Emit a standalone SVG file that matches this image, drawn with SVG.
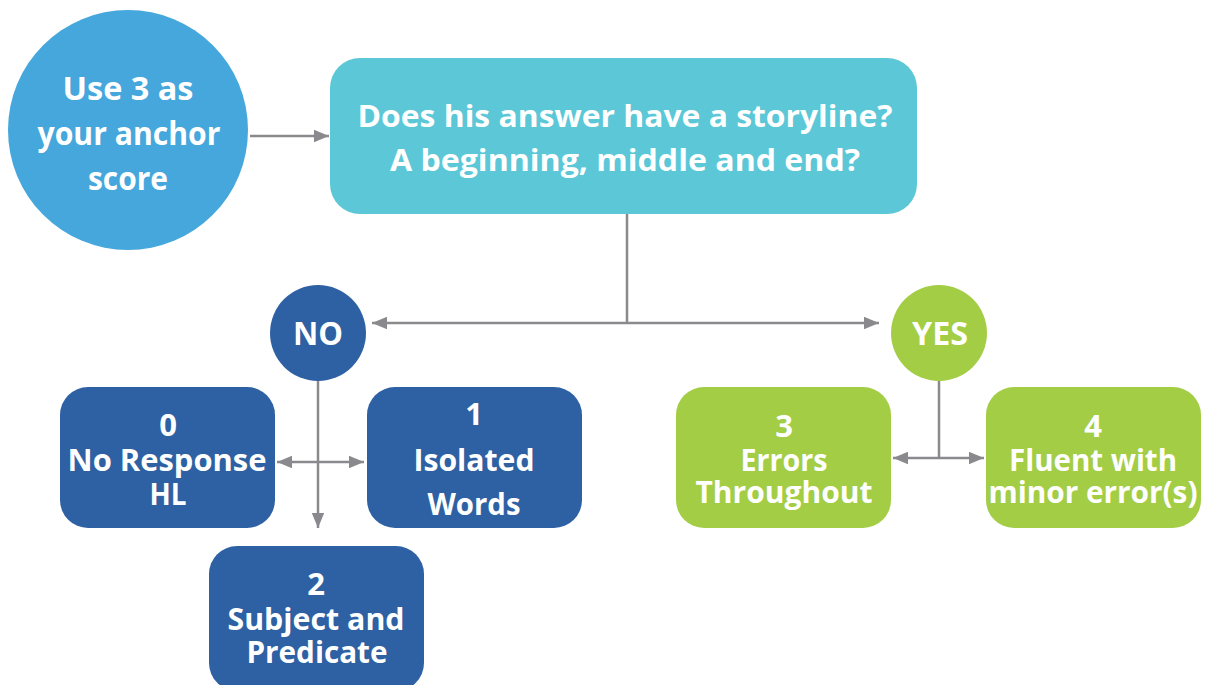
<svg xmlns="http://www.w3.org/2000/svg" width="1210" height="685" viewBox="0 0 1210 685">
<defs>
<style>
.t{font-family:"Open Sans","Liberation Sans",sans-serif;font-weight:700;fill:#ffffff;text-anchor:middle}
.big{font-size:33px}
.mid{font-size:31px}
.yn{font-size:32px}
.box{font-size:31px}
.ln{stroke:#8a8a8e;stroke-width:2.5;fill:none}
.blue{fill:#2E61A3}
.green{fill:#A3CD45}
</style>
<marker id="ah" viewBox="0 0 12 10" refX="12" refY="5" markerWidth="6" markerHeight="5" orient="auto-start-reverse" markerUnits="strokeWidth">
<path d="M0,0 L12,5 L0,10 z" fill="#8a8a8e"/>
</marker>
</defs>
<rect width="1210" height="685" fill="#ffffff"/>
<g id="connectors">
<line class="ln" x1="250" y1="136" x2="329" y2="136" marker-end="url(#ah)"/>
<line class="ln" x1="627" y1="214" x2="627" y2="323"/>
<line class="ln" x1="372" y1="323" x2="879" y2="323" marker-start="url(#ah)" marker-end="url(#ah)"/>
<line class="ln" x1="318" y1="381" x2="318" y2="528" marker-end="url(#ah)"/>
<line class="ln" x1="277" y1="462" x2="364" y2="462" marker-start="url(#ah)" marker-end="url(#ah)"/>
<line class="ln" x1="939" y1="381" x2="939" y2="458"/>
<line class="ln" x1="893" y1="458" x2="984" y2="458" marker-start="url(#ah)" marker-end="url(#ah)"/>
</g>
<g id="anchor">
<circle cx="128" cy="130" r="120" fill="#45A7DC"/>
<text class="t big" x="128" y="100" textLength="131" lengthAdjust="spacingAndGlyphs">Use 3 as</text>
<text class="t big" x="129" y="145" textLength="183" lengthAdjust="spacingAndGlyphs">your anchor</text>
<text class="t big" x="128" y="190" textLength="80" lengthAdjust="spacingAndGlyphs">score</text>
</g>
<g id="question">
<rect x="330" y="58" width="587" height="156" rx="30" fill="#5BC7D7"/>
<text class="t mid" x="625" y="127" textLength="535" lengthAdjust="spacingAndGlyphs">Does his answer have a storyline?</text>
<text class="t mid" x="625" y="171" textLength="470" lengthAdjust="spacingAndGlyphs">A beginning, middle and end?</text>
</g>
<g id="no">
<circle class="blue" cx="318" cy="333" r="48"/>
<text class="t yn" x="318" y="345" textLength="50" lengthAdjust="spacingAndGlyphs">NO</text>
</g>
<g id="yes">
<circle class="green" cx="939" cy="333" r="48"/>
<text class="t yn" x="940" y="345" textLength="56" lengthAdjust="spacingAndGlyphs">YES</text>
</g>
<g id="score0">
<rect class="blue" x="60" y="387" width="215" height="141" rx="28"/>
<text class="t box" x="168" y="436">0</text>
<text class="t box" x="167" y="471" textLength="199" lengthAdjust="spacingAndGlyphs">No Response</text>
<text class="t box" x="168" y="505" textLength="37" lengthAdjust="spacingAndGlyphs">HL</text>
</g>
<g id="score1">
<rect class="blue" x="367" y="387" width="215" height="141" rx="28"/>
<text class="t box" x="474" y="425">1</text>
<text class="t box" x="474" y="471" textLength="121" lengthAdjust="spacingAndGlyphs">Isolated</text>
<text class="t box" x="474" y="515" textLength="93" lengthAdjust="spacingAndGlyphs">Words</text>
</g>
<g id="score2">
<rect class="blue" x="209" y="546" width="215" height="145" rx="28"/>
<text class="t box" x="316" y="595">2</text>
<text class="t box" x="316" y="630" textLength="177" lengthAdjust="spacingAndGlyphs">Subject and</text>
<text class="t box" x="317" y="663" textLength="141" lengthAdjust="spacingAndGlyphs">Predicate</text>
</g>
<g id="score3">
<rect class="green" x="676" y="387" width="215" height="141" rx="28"/>
<text class="t box" x="784" y="437">3</text>
<text class="t box" x="784" y="471" textLength="87" lengthAdjust="spacingAndGlyphs">Errors</text>
<text class="t box" x="784" y="503" textLength="177" lengthAdjust="spacingAndGlyphs">Throughout</text>
</g>
<g id="score4">
<rect class="green" x="986" y="387" width="215" height="141" rx="28"/>
<text class="t box" x="1093" y="437">4</text>
<text class="t box" x="1093" y="471" textLength="168" lengthAdjust="spacingAndGlyphs">Fluent with</text>
<text class="t box" x="1093" y="503" textLength="209" lengthAdjust="spacingAndGlyphs">minor error(s)</text>
</g>
</svg>
